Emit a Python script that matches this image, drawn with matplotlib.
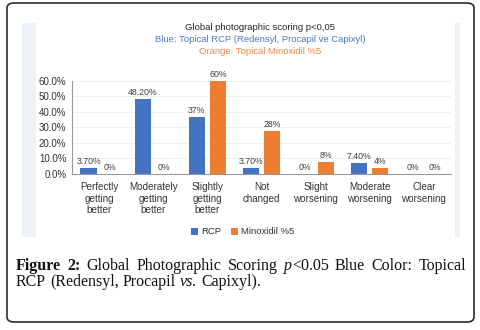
import numpy as np
import matplotlib
matplotlib.use("Agg")
import matplotlib.pyplot as plt
from matplotlib.patches import FancyBboxPatch, Rectangle

W, H = 480, 330

categories = ["Perfectly\ngetting\nbetter", "Moderately\ngetting\nbetter",
              "Slightly\ngetting\nbetter", "Not\nchanged", "Slight\nworsening",
              "Moderate\nworsening", "Clear\nworsening"]
rcp = [3.7, 48.2, 37, 3.7, 0, 7.4, 0]
rcp_labels = ["3.70%", "48.20%", "37%", "3.70%", "0%", "7.40%", "0%"]
minox = [0, 0, 60, 28, 8, 4, 0]
minox_labels = ["0%", "0%", "60%", "28%", "8%", "4%", "0%"]
yticks = [0, 10, 20, 30, 40, 50, 60]

BLUE = "#4472c4"
ORANGE = "#ed7d31"
SANS = ["Liberation Sans", "DejaVu Sans"]
SERIF = ["Liberation Serif", "DejaVu Serif"]


def fx(px):
    return px / W


def fy(py):
    return 1 - py / H


fig = plt.figure(figsize=(4.8, 3.3), dpi=100)
fig.patch.set_facecolor("white")

# outer rounded frame
fig.patches.append(FancyBboxPatch((fx(7), fy(322)), fx(467), (322 - 3) / H,
                                  boxstyle="round,pad=0,rounding_size=0.015",
                                  transform=fig.transFigure, fill=False,
                                  edgecolor="#2b2b2b", linewidth=1.2,
                                  zorder=-10))
# chart panel
fig.patches.append(Rectangle((fx(22), fy(237)), fx(438), (237 - 23) / H,
                             transform=fig.transFigure, facecolor="#edf1f8",
                             edgecolor="none", zorder=-10))
fig.patches.append(Rectangle((fx(36), fy(237)), fx(419), (237 - 23) / H,
                             transform=fig.transFigure, facecolor="white",
                             edgecolor="none", zorder=-9))

# titles
fig.text(fx(260), fy(27), "Global photographic scoring p<0,05", ha="center",
         va="center", fontsize=6.8, color="#262626", family=SANS)
fig.text(fx(260), fy(40), "Blue: Topical RCP (Redensyl, Procapil ve Capixyl)",
         ha="center", va="center", fontsize=6.8, color="#4a78cc", family=SANS)
fig.text(fx(260), fy(52), "Orange: Topical Minoxidil %5", ha="center",
         va="center", fontsize=6.8, color="#ec8444", family=SANS)

ax = fig.add_axes([fx(72), fy(174), fx(451 - 72), (174 - 81) / H])
ax.set_facecolor("none")
x = np.arange(len(categories))
bw = 0.3
ax.bar(x - 0.195, rcp, bw, color=BLUE, label="RCP")
ax.bar(x + 0.195, minox, bw, color=ORANGE, label="Minoxidil %5")

for xi, v, s in zip(x, rcp, rcp_labels):
    ax.text(xi - 0.195, v + 1.2, s, ha="center", va="bottom", fontsize=6.3,
            color="#404040", family=SANS)
for xi, v, s in zip(x, minox, minox_labels):
    ax.text(xi + 0.195, v + 1.2, s, ha="center", va="bottom", fontsize=6.3,
            color="#404040", family=SANS)

ax.set_xlim(-0.5, len(categories) - 0.5)
ax.set_ylim(0, 60)
ax.set_yticks(yticks)
ax.set_yticklabels([f"{t:.1f}%" for t in yticks], family=SANS, fontsize=7,
                   color="#333333")
ax.set_xticks(x)
ax.set_xticklabels(categories, family=SANS, fontsize=7.1, color="#333333",
                   linespacing=1.15, va="top")
ax.tick_params(axis="both", length=0)
ax.tick_params(axis="y", pad=4)
ax.tick_params(axis="x", pad=6)
ax.grid(axis="y", color="#ececec", linewidth=0.6)
ax.set_axisbelow(True)
for side in ["top", "right"]:
    ax.spines[side].set_visible(False)
for side in ["left", "bottom"]:
    ax.spines[side].set_color("#9a9a9a")
    ax.spines[side].set_linewidth(0.8)

fig.legend(loc="center", bbox_to_anchor=(fx(243), fy(232)), ncol=2,
           frameon=False, prop={"family": SANS, "size": 6.8},
           handlelength=0.7, handleheight=0.7, handletextpad=0.4,
           columnspacing=1.0, labelcolor="#333333")

# caption, first line justified between the frame margins
renderer = fig.canvas.get_renderer()
cap_size = 11.5


def draw_word(px, py, segments):
    cur = px
    for txt, weight, style in segments:
        t = fig.text(fx(cur), fy(py), txt, fontsize=cap_size, family=SERIF,
                     fontweight=weight, fontstyle=style, color="#111111",
                     va="baseline", ha="left")
        cur += t.get_window_extent(renderer).width
    return cur - px


def measure(segments):
    total = 0
    for txt, weight, style in segments:
        t = fig.text(0, 0, txt, fontsize=cap_size, family=SERIF,
                     fontweight=weight, fontstyle=style)
        total += t.get_window_extent(renderer).width
        t.remove()
    return total


R = ("normal", "normal")
line1 = [[("Figure", "bold", "normal")], [("2:", "bold", "normal")],
         [("Global",) + R], [("Photographic",) + R], [("Scoring",) + R],
         [("p", "normal", "italic"), ("<0.05",) + R], [("Blue",) + R],
         [("Color:",) + R], [("Topical",) + R]]
line2 = [[("RCP",) + R], [("(Redensyl,",) + R], [("Procapil",) + R],
         [("vs.", "normal", "italic")], [("Capixyl).",) + R]]

left, right = 16, 466
widths = [measure(w) for w in line1]
gap = (right - left - sum(widths)) / (len(line1) - 1)
cur = left
for w, wd in zip(line1, widths):
    draw_word(cur, 269.5, w)
    cur += wd + gap

space = measure([(" ",) + R])
cur = left
for w in line2:
    cur += draw_word(cur, 285.5, w) + space

fig.savefig("out.png", dpi=100)
